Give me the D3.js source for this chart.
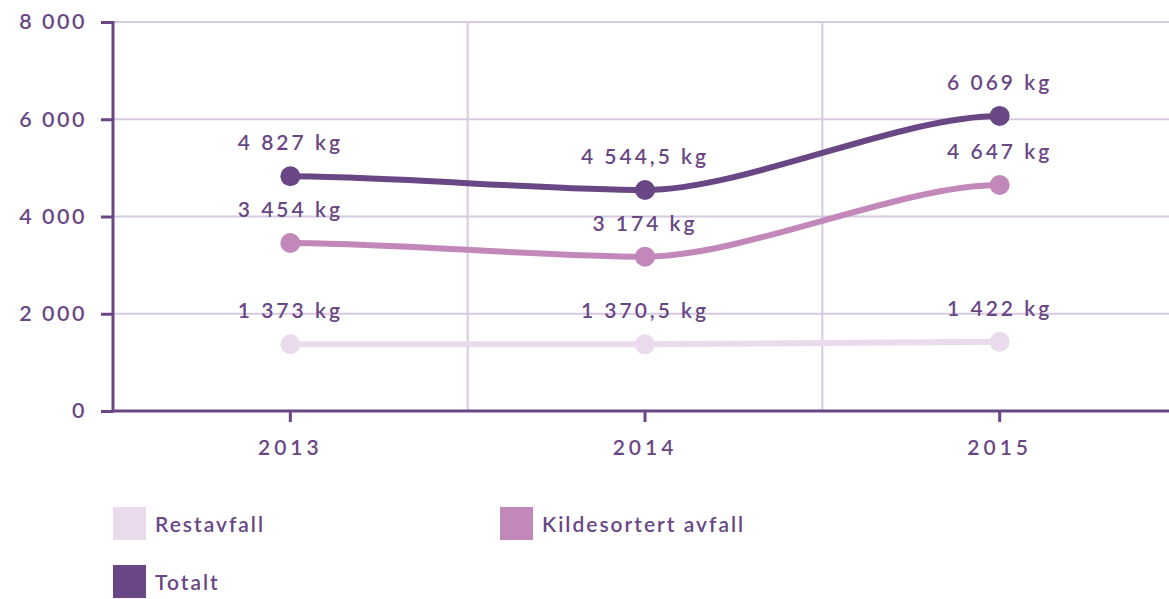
<!DOCTYPE html>
<html><head><meta charset="utf-8">
<script src="https://cdn.jsdelivr.net/npm/d3@7"></script>
<style>
body{margin:0;background:#fff;}
text{font-family:"Lato",sans-serif;fill:#694784;}
</style></head>
<body><svg id="c" width="1169" height="599"></svg>
<script>
const years = ["2013","2014","2015"];
const restavfall = [1373, 1370.5, 1422];
const kildesortert = [3454, 3174, 4647];
const totalt = [4827, 4544.5, 6069];
const yTicks = [0, 2000, 4000, 6000, 8000];
const seriesNames = ["Restavfall","Kildesortert avfall","Totalt"];
const colors = ["#eadbec","#c288ba","#694784"];

const svg = d3.select("#c");
const x = d3.scaleBand().domain(years).range([113,1177]).padding(0);
const y = d3.scaleLinear().domain([0,8000]).range([411,22]);
const loc = d3.formatLocale({decimal:",",thousands:"\u00a0",grouping:[3],currency:["",""]});
const fmtAxis = loc.format(",d");
const fmtVal = v => loc.format(",")(v) + " kg";
const axisColor = "#694784", gridColor = "#d6c9e0";

// smooth curve with horizontal tangents at every point
function curveFlat(c){
  return function(context){
    let x0, y0, started = false;
    return {
      areaStart(){}, areaEnd(){},
      lineStart(){ started = false; },
      lineEnd(){},
      point(px, py){
        px = +px; py = +py;
        if (!started) { context.moveTo(px, py); started = true; }
        else { const dx = px - x0; context.bezierCurveTo(x0 + c*dx, y0, px - c*dx, py, px, py); }
        x0 = px; y0 = py;
      }
    };
  };
}

// grid
svg.append("g").selectAll("line").data(yTicks.filter(d=>d>0)).join("line")
  .attr("x1",113).attr("x2",1169).attr("y1",d=>y(d)).attr("y2",d=>y(d))
  .attr("stroke",gridColor).attr("stroke-width",2);
svg.append("g").selectAll("line").data(years.slice(1)).join("line")
  .attr("x1",d=>x(d)).attr("x2",d=>x(d)).attr("y1",y(8000)).attr("y2",y(0))
  .attr("stroke",gridColor).attr("stroke-width",2);

// y axis
const ya = svg.append("g").attr("transform","translate(113,0)")
  .call(d3.axisLeft(y).tickValues(yTicks).tickFormat(fmtAxis).tickSize(12).tickPadding(14));
ya.select(".domain").remove();
ya.selectAll(".tick line").attr("stroke",axisColor).attr("stroke-width",3);
ya.selectAll(".tick text").attr("font-size",21.5).attr("font-weight",600).attr("letter-spacing",2.5).style("font-family","Lato").attr("fill",axisColor);
svg.append("line").attr("x1",113).attr("x2",113).attr("y1",y(8000)-1).attr("y2",y(0)+1.5).attr("stroke",axisColor).attr("stroke-width",3);

// x axis
const xa = svg.append("g").attr("transform","translate(0,411)")
  .call(d3.axisBottom(x).tickSize(11).tickPadding(18));
xa.select(".domain").remove();
xa.selectAll(".tick line").attr("stroke",axisColor).attr("stroke-width",3);
xa.selectAll(".tick text").attr("font-size",21).attr("font-weight",600).attr("letter-spacing",4).style("font-family","Lato").attr("fill",axisColor);
svg.append("line").attr("x1",112).attr("x2",1169).attr("y1",411).attr("y2",411).attr("stroke",axisColor).attr("stroke-width",3);

// series
const data = [restavfall, kildesortert, totalt];
const line = d3.line().x((d,i)=>x(years[i])+x.bandwidth()/2).y(d=>y(d)).curve(curveFlat(0.28));
data.forEach((vals,si)=>{
  const g = svg.append("g");
  g.append("path").datum(vals).attr("d",line).attr("fill","none").attr("stroke",colors[si]).attr("stroke-width",6).attr("stroke-linecap","round");
  g.selectAll("circle").data(vals).join("circle")
    .attr("cx",(d,i)=>x(years[i])+x.bandwidth()/2).attr("cy",d=>y(d)).attr("r",10).attr("fill",colors[si]);
});
data.forEach((vals,si)=>{
  svg.append("g").selectAll("text").data(vals).join("text")
    .attr("x",(d,i)=>x(years[i])+x.bandwidth()/2).attr("y",d=>y(d)-26)
    .attr("text-anchor","middle").attr("font-size",21).attr("font-weight",600).attr("letter-spacing",3)
    .text(d=>fmtVal(d));
});

// legend
const legPos = [[113,507],[500,507],[113,565]];
seriesNames.forEach((n,i)=>{
  const [lx,ly] = legPos[i];
  svg.append("rect").attr("x",lx).attr("y",ly).attr("width",33).attr("height",33).attr("fill",colors[i]);
  svg.append("text").attr("x",lx+42).attr("y",ly+25).attr("font-size",21).attr("font-weight",600).attr("letter-spacing",2).text(n);
});
</script></body></html>
